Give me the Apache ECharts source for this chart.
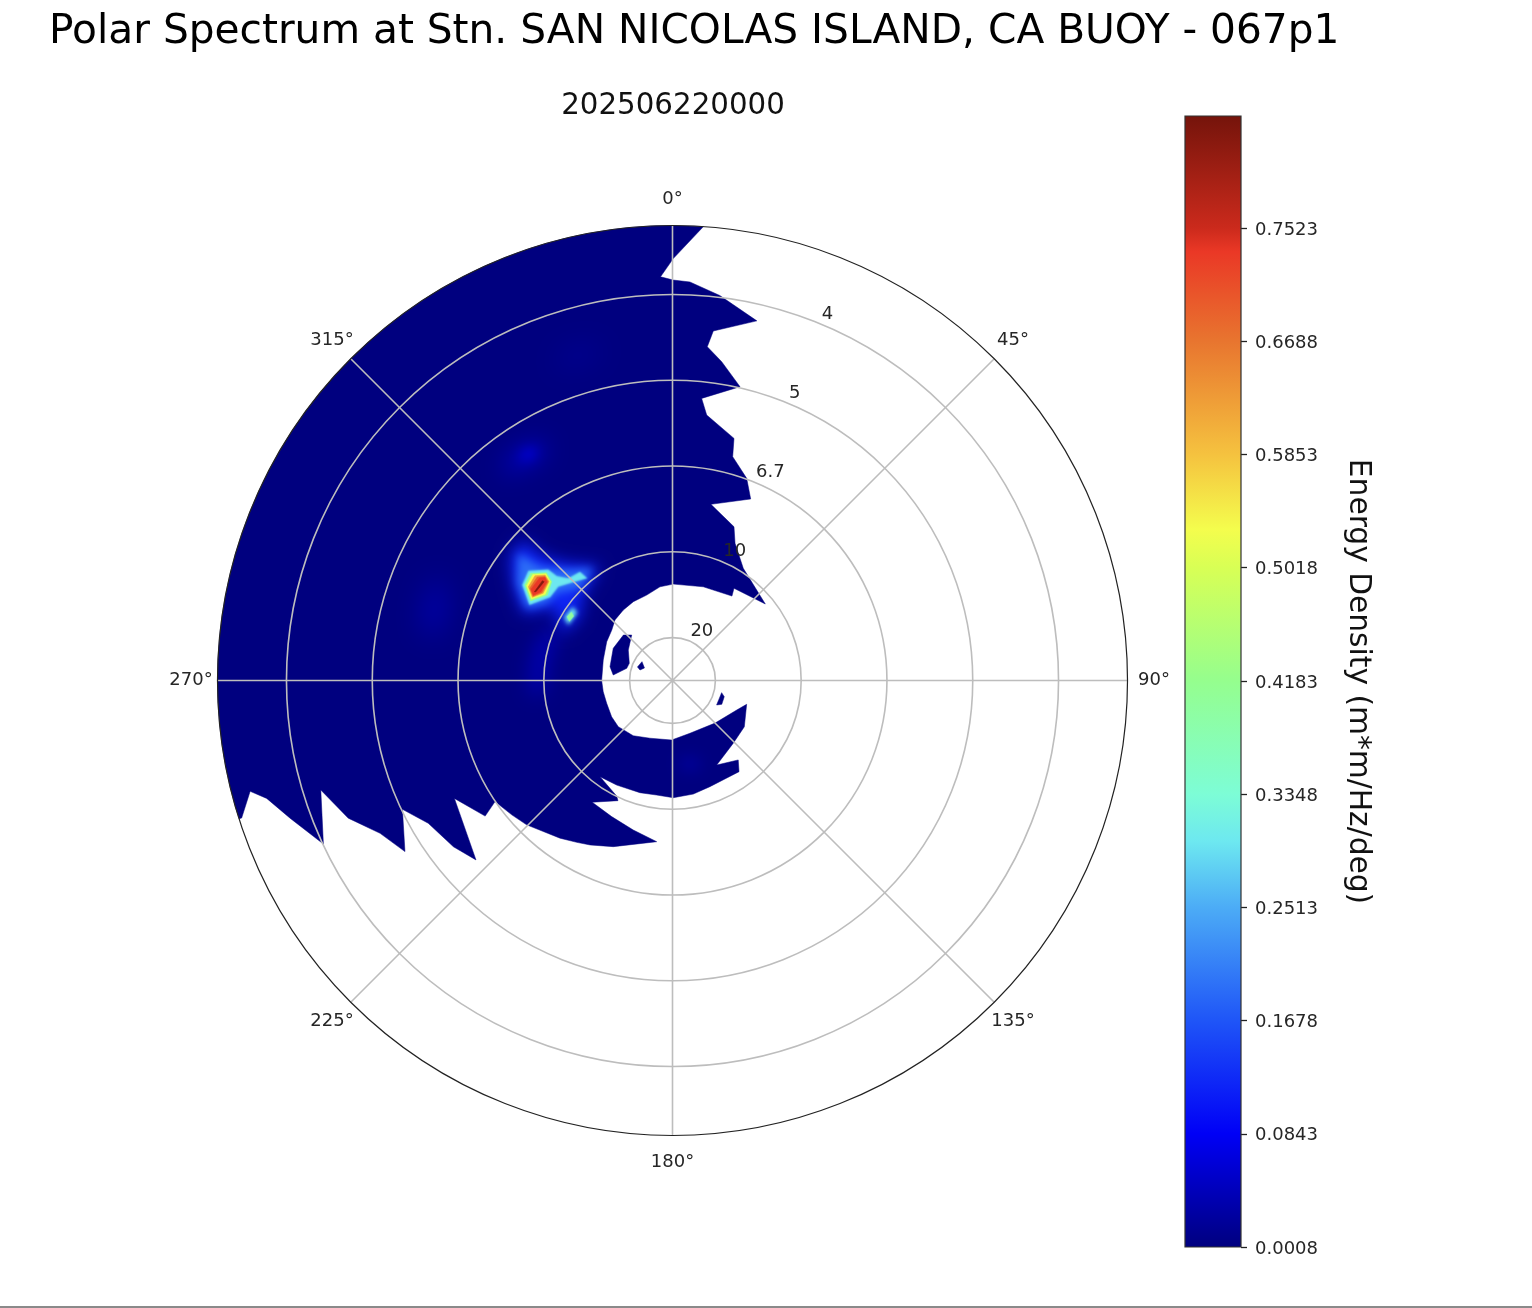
<!DOCTYPE html>
<html><head><meta charset="utf-8">
<style>html,body{margin:0;padding:0;background:#fff}#c{width:1532px;height:1308px}</style>
<script src="https://cdn.jsdelivr.net/npm/echarts@6/dist/echarts.min.js"></script>
</head><body><div id="c"></div>
<script>
var titleText = 'Polar Spectrum at Stn. SAN NICOLAS ISLAND, CA BUOY - 067p1';
var subTitle = '202506220000';
var FMIN = 0.025, FMAX = 0.2902;
var ringFreqs = [0.05, 0.1, 0.15, 0.2, 0.25];
var ringLabels = ['20', '10', '6.7', '5', '4'];
var angleTicks = [0, 45, 90, 135, 180, 225, 270, 315];
var barMin = 0.0008, barMax = 0.8349;
var barTicks = [0.0008, 0.0843, 0.1678, 0.2513, 0.3348, 0.4183, 0.5018, 0.5853, 0.6688, 0.7523];
var barStops = [[0.0008,'#00007f'],[0.0843,'#0000f6'],[0.1678,'#1f55f7'],[0.2513,'#4cacf6'],[0.30,'#6de8f0'],[0.3348,'#7dfdd6'],[0.4183,'#95fe8e'],[0.5018,'#d8ff55'],[0.53,'#f4fd4d'],[0.5853,'#f5c23f'],[0.6688,'#e8752f'],[0.735,'#ea3826'],[0.7523,'#cb2a1c'],[0.8349,'#75140b']];

// outline of the non-masked energy field: [direction deg, frequency Hz]
var maskMain = [[3.9,FMAX],[0.1,0.2709],[358.3,0.2604],[0.1,0.2584],[2.5,0.2575],[7,0.2511],[13.2,0.2403],[6.66,0.2301],[5.95,0.2206],[8.77,0.2130],[12.94,0.2007],[5.9,0.1903],[7.34,0.1810],[14.25,0.1706],[15.05,0.1601],[20.15,0.1505],[23.3,0.1402],[12.3,0.1301],[21.8,0.1215],[24.5,0.1129],[32.25,0.1023],[50.5,0.0951],[33.7,0.0896],[35.15,0.0852],[18.2,0.0825],[0.5,0.0812],[-7.6,0.0801],[-16.8,0.0770],[-26.4,0.0763],[-34.9,0.0751],[-43.5,0.0737],[-50.3,0.0710],[-59.5,0.0695],[-73.5,0.0671],[-90,0.0663],[-99.2,0.0659],[-109.1,0.0656],[-120.8,0.0663],[-130.4,0.0665],[-144.6,0.0645],[-158.7,0.0611],[-179.2,0.0597],[-198.3,0.0574],[-225,0.0601],[-245.3,0.0662],[-252.2,0.0704],[-237.2,0.0748],[-224.1,0.0759],[-207.6,0.0806],[-219.6,0.0851],[-216.1,0.0908],[-199.4,0.0906],[-190.4,0.0923],[-180.4,0.0933],[-172.1,0.0924],[-163.8,0.0931],[-151.9,0.0941],[-143,0.0952],[-154.2,0.0998],[-155.6,0.1019],[-146.6,0.1100],[-155.9,0.1119],[-165.3,0.1151],[-174.4,0.1194],[-160.4,0.1278],[-153.4,0.1322],[-149.4,0.1346],[-144.5,0.1379],[-134.7,0.1446],[-129.9,0.1471],[-124.3,0.1502],[-125.9,0.1598],[-118.4,0.1695],[-132.4,0.1801],[-127.2,0.1853],[-120.3,0.1899],[-115.5,0.1994],[-122.6,0.2101],[-117.6,0.2173],[-113,0.2303],[-107.3,0.2397],[-115.1,0.2497],[-109.8,0.2619],[-106.2,0.2713],[-104.7,0.2795],[-107.7,0.2886],[-107.7,FMAX],[-0.1,FMAX]];
var maskIsleA = [[318.1,0.0606],[312.8,0.0640],[298.5,0.0643],[282.5,0.0623],[275.3,0.0597],[284.9,0.0526],[291.7,0.0521],[304.6,0.0563]];
var maskIsleB = [[291.1,0.0469],[301.7,0.0459],[294.1,0.0429],[287.9,0.0449]];
var maskIsleC = [[119,0.0544],[103.9,0.0545],[107.4,0.0566],[115.8,0.0569]];

// energy contours, low to high
var faintNorth = [[347.4,0.2193],[339.3,0.2185],[342,0.2275],[347.8,0.2250]];
var faintWest = [[294.8,0.1742],[288.7,0.1650],[280.5,0.1647],[281.5,0.1732],[288.8,0.1763]];
var faintSouth = [[174.6,0.0716],[160.9,0.0740],[164.6,0.0781],[174,0.0765]];
var swellArc = [[295.6,0.0977],[288.8,0.0984],[277.7,0.1000],[264.4,0.1016],[264.8,0.1074],[278.4,0.1070],[290,0.1051]];
var swellNorth = [[332.4,0.1811],[329.2,0.1758],[323.7,0.1784],[320,0.1800],[324,0.1862],[328.8,0.1854]];
var swellNorthCore = [[330,0.1813],[327.6,0.1783],[325,0.1818],[327.4,0.1844]];
var haloOuter = [[313,0.1451],[313.8,0.1293],[317.9,0.1170],[327.5,0.1037],[314.4,0.0977],[304.6,0.0905],[293.4,0.0943],[301.8,0.1067],[294.2,0.1203],[301.4,0.1337],[307.3,0.1441]];
var haloInner = [[309.5,0.1415],[310.7,0.1268],[316.3,0.1142],[324.8,0.1050],[314.9,0.1011],[307,0.1095],[301.5,0.1110],[296.3,0.1198],[302,0.1320]];
var peakCyan = [[307.3,0.1306],[311.8,0.1221],[312.1,0.1159],[314.4,0.1101],[319.6,0.1082],[320.2,0.1025],[315.4,0.1059],[309.4,0.1111],[304.2,0.1112],[297.8,0.1193],[302.4,0.1288]];
var peakGreen = [[307.1,0.1286],[310.6,0.1216],[309.3,0.1159],[304.3,0.1133],[299.3,0.1198],[302.9,0.1276]];
var peakYellow = [[307.2,0.1272],[310.1,0.1215],[309,0.1165],[304.1,0.1146],[300,0.1199],[303,0.1264]];
var peakOrange = [[307.3,0.1258],[309.6,0.1214],[308.7,0.1172],[304,0.1159],[300.7,0.1200],[303,0.1252]];
var peakDeepOrange = [[307.4,0.1243],[309.2,0.1209],[308.4,0.1176],[304,0.1167],[301.1,0.1200],[302.9,0.1241]];
var peakRed = [[307.6,0.1229],[308.9,0.1205],[308.1,0.1181],[304,0.1176],[301.5,0.1201],[302.8,0.1231]];
var peakDark = [[307.5,0.1206],[307.6,0.1194],[303,0.1199],[302.7,0.1207]];
var spotCyan = [[306.5,0.0973],[305.5,0.0931],[298,0.0938],[300.2,0.0982]];
var spotGreen = [[304.2,0.0963],[303.2,0.0936],[299.7,0.0942],[301.1,0.0970]];

// [outline, energy value, softness]
var layers = [
  [maskMain, 0.0008, 0], [maskIsleA, 0.0008, 0], [maskIsleB, 0.0008, 0], [maskIsleC, 0.0008, 0],
  [faintNorth, 0.02, 14], [faintWest, 0.04, 14], [faintSouth, 0.04, 8],
  [swellArc, 0.055, 10], [swellNorth, 0.055, 12], [swellNorthCore, 0.07, 6],
  [haloOuter, 0.12, 8], [haloInner, 0.19, 4],
  [peakCyan, 0.3, 1], [spotCyan, 0.3, 2], [spotGreen, 0.4, 0.5],
  [peakGreen, 0.42, 0], [peakYellow, 0.53, 0], [peakOrange, 0.62, 0], [peakDeepOrange, 0.69, 0], [peakRed, 0.735, 0], [peakDark, 0.82, 0]
];

function hex2(c){return [1,3,5].map(function(i){return parseInt(c.substr(i,2),16);});}
function levelColor(v){
  for(var i=1;i<barStops.length;i++){
    if(v<=barStops[i][0]){
      var a=barStops[i-1],b=barStops[i],t=(v-a[0])/(b[0]-a[0]),p=hex2(a[1]),q=hex2(b[1]);
      return 'rgb('+p.map(function(x,k){return Math.round(x+(q[k]-x)*t);}).join(',')+')';
    }
  }
  return barStops[barStops.length-1][1];
}
function expand(pts){
  var out=[];
  pts.forEach(function(p,i){
    out.push(p);
    var n=pts[i+1];
    if(n&&p[1]===FMAX&&n[1]===FMAX){
      var s=Math.ceil(Math.abs(n[0]-p[0])/2);
      for(var k=1;k<s;k++)out.push([p[0]+(n[0]-p[0])*k/s,FMAX]);
    }
  });
  return out;
}
var OFF=4000;
function renderField(params,api){
  var l=layers[params.dataIndex],blur=l[2],col=levelColor(l[1]);
  var pts=expand(l[0]).map(function(p){
    var c=api.coord([p[1],((p[0]%360)+360)%360]);
    return blur?[c[0]-OFF,c[1]]:c;
  });
  var style=blur?{fill:col,shadowColor:col,shadowBlur:blur*2,shadowOffsetX:OFF}:{fill:col,stroke:col,lineWidth:0.5};
  return {type:'polygon',shape:{points:pts},style:style,silent:true};
}
var chart=echarts.init(document.getElementById('c'),null,{renderer:'canvas'});
var FF='"DejaVu Sans"';
chart.setOption({
  animation:false,
  backgroundColor:'#fff',
  title:[
    {text:titleText,left:44,top:7,textStyle:{fontFamily:FF,fontSize:40.7,fontWeight:'normal',color:'#000'}},
    {text:subTitle,left:668,top:87,textAlign:'center',textStyle:{fontFamily:FF,fontSize:29.3,fontWeight:'normal',color:'#111'}}
  ],
  polar:{center:[672.5,680.5],radius:455},
  angleAxis:{type:'value',min:0,max:360,interval:45,startAngle:90,clockwise:true,z:11,
    axisLine:{show:true,lineStyle:{color:'#222',width:1.2}},
    axisTick:{show:false},
    splitLine:{show:true,lineStyle:{color:'#bdbdbd',width:1.6}},
    axisLabel:{show:false}},
  radiusAxis:{type:'value',min:FMIN,max:FMAX,z:10,
    axisLine:{show:false},axisTick:{show:false,customValues:ringFreqs},axisLabel:{show:false},
    splitLine:{show:true,lineStyle:{color:'#bdbdbd',width:1.6}}},
  grid:{left:1185,top:116,width:56,height:1131,show:true,borderColor:'#333',borderWidth:1.2,backgroundColor:'transparent',z:5},
  xAxis:{type:'category',data:['bar'],show:false},
  yAxis:{type:'value',position:'right',min:barMin,max:barMax,
    axisLine:{show:false},splitLine:{show:false},
    axisTick:{show:true,length:6,customValues:barTicks,lineStyle:{color:'#222',width:1.3}},
    axisLabel:{show:true,customValues:barTicks,margin:14,showMinLabel:true,showMaxLabel:true,
      formatter:function(v){return '{a|'+v.toFixed(4)+'}';},
      rich:{a:{fontFamily:FF,fontSize:18,color:'#262626',padding:[4,0,0,0]}}},
    name:'Energy Density (m*m/Hz/deg)',nameLocation:'middle',nameRotate:-90,nameGap:102,
    nameTextStyle:{fontFamily:FF,fontSize:29.7,color:'#111'}},
  series:[
    {type:'custom',coordinateSystem:'polar',z:2,silent:true,clip:false,
     renderItem:renderField,
     data:layers.map(function(l){return [l[0][0][1],l[0][0][0]];})},
    {type:'scatter',coordinateSystem:'polar',z:20,symbolSize:0,silent:true,itemStyle:{opacity:1},
     data:ringFreqs.map(function(f,i){return {value:[f,22.5],name:ringLabels[i]};}),
     label:{show:true,position:'inside',align:'left',verticalAlign:'middle',offset:[1.5,-10],formatter:'{b}',fontFamily:FF,fontSize:18,color:'#262626'}},
    {type:'scatter',coordinateSystem:'polar',z:20,symbolSize:0,silent:true,itemStyle:{opacity:1},
     data:angleTicks.map(function(a){
       var t=a*Math.PI/180;
       return {value:[FMAX,a],name:a+'\u00b0',label:{offset:[26.5*Math.sin(t),-26.5*Math.cos(t)]}};
     }),
     label:{show:true,position:'inside',align:'center',verticalAlign:'middle',formatter:'{b}',fontFamily:FF,fontSize:18,color:'#262626'}},
    {type:'bar',xAxisIndex:0,yAxisIndex:0,barWidth:'100%',silent:true,z:1,
     data:[barMax],
     itemStyle:{color:{type:'linear',x:0,y:1,x2:0,y2:0,colorStops:barStops.map(function(s){return {offset:(s[0]-barMin)/(barMax-barMin),color:s[1]};})}}}
  ],
  graphic:[{type:'rect',shape:{x:0,y:1306,width:1532,height:2},style:{fill:'#8a8a8a'},silent:true}]
});
</script></body></html>
